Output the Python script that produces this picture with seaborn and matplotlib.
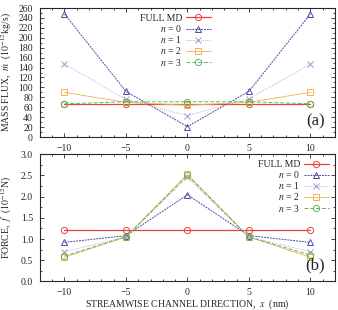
import matplotlib
matplotlib.use('Agg')
import matplotlib.pyplot as plt
import seaborn as sns
from matplotlib.ticker import MultipleLocator

sns.set_style('ticks')
plt.rcParams['font.family'] = ['Liberation Serif', 'DejaVu Serif']
plt.rcParams['mathtext.fontset'] = 'stix'

x = [-10, -5, 0, 5, 10]
labels = ['FULL MD', '$n$ = 0', '$n$ = 1', '$n$ = 2', '$n$ = 3']

# mass flux (10^-12 kg/s)
flux_md = [67, 67, 67, 67, 67]
flux_n0 = [248, 92, 21, 92, 248]
flux_n1 = [147, 76, 43, 77, 147]
flux_n2 = [90, 70, 64, 70, 90]
flux_n3 = [67, 71, 71, 71, 67]

# force (10^-12 N)
force_md = [1.22, 1.22, 1.22, 1.22, 1.22]
force_n0 = [0.92, 1.08, 2.04, 1.08, 0.92]
force_n1 = [0.70, 1.05, 2.45, 1.05, 0.70]
force_n2 = [0.57, 1.05, 2.52, 1.05, 0.57]
force_n3 = [0.60, 1.05, 2.50, 1.05, 0.62]

colors = ['#e8453c', '#4a4aa8', '#a195d8', '#f0b44c', '#5cb85c']
markers = ['o', '^', 'x', 's', 'o']
styles = ['-', (0, (2, 1)), (0, (1, 1.5)), '-', (0, (4, 2))]
widths = [0.9, 0.7, 0.6, 0.6, 0.7]

fig = plt.figure(figsize=(3.38, 3.10), dpi=100)
ax1 = fig.add_axes([0.118, 0.558, 0.873, 0.416])
ax2 = fig.add_axes([0.118, 0.092, 0.873, 0.411])


def draw(ax, series, anchor):
    for vals, lab, c, m, ls, lw in zip(series, labels, colors, markers, styles, widths):
        sns.lineplot(x=x, y=vals, ax=ax, color=c, marker=m, linestyle=ls,
                     linewidth=lw, markersize=4.5, markerfacecolor='none',
                     markeredgecolor=c, markeredgewidth=0.7, label=lab)
    ax.set_xlim(-12, 12)
    ax.xaxis.set_major_locator(MultipleLocator(5))
    ax.xaxis.set_minor_locator(MultipleLocator(1))
    ax.tick_params(which='both', direction='in', top=True, right=True, labelsize=7,
                   width=0.6, pad=5)
    ax.tick_params(which='major', length=3)
    ax.tick_params(which='minor', length=1.5)
    for sp in ax.spines.values():
        sp.set_linewidth(0.8)
    leg = ax.legend(loc='upper right', bbox_to_anchor=anchor, frameon=False,
                    markerfirst=False, fontsize=7, handlelength=2.6,
                    labelspacing=0.02, borderaxespad=0.2, handletextpad=0.4)
    for t in leg.get_texts():
        t.set_ha('right')


draw(ax1, [flux_md, flux_n0, flux_n1, flux_n2, flux_n3], (0.6, 1.0))
ax1.set_ylim(0, 260)
ax1.yaxis.set_major_locator(MultipleLocator(20))
ax1.yaxis.set_minor_locator(MultipleLocator(10))
ax1.set_ylabel(r'MASS FLUX,  $\dot{m}$  ($10^{-12}$kg/s)', fontsize=7, labelpad=3)
ax1.text(0.965, 0.06, '(a)', transform=ax1.transAxes, ha='right', va='bottom', fontsize=12)

draw(ax2, [force_md, force_n0, force_n1, force_n2, force_n3], (1.0, 1.0))
ax2.set_ylim(0, 3)
ax2.yaxis.set_major_locator(MultipleLocator(0.5))
ax2.yaxis.set_minor_locator(MultipleLocator(0.25))
ax2.set_ylabel(r'FORCE,  $f$  ($10^{-12}$N)', fontsize=7, labelpad=5)
ax2.text(0.965, 0.06, '(b)', transform=ax2.transAxes, ha='right', va='bottom', fontsize=12)
fig.text(0.5545, 1 - 304 / 310, r'STREAMWISE CHANNEL DIRECTION,  $x$  (nm)',
         fontsize=7, ha='center', va='center')

fig.savefig('out.png', dpi=100)
